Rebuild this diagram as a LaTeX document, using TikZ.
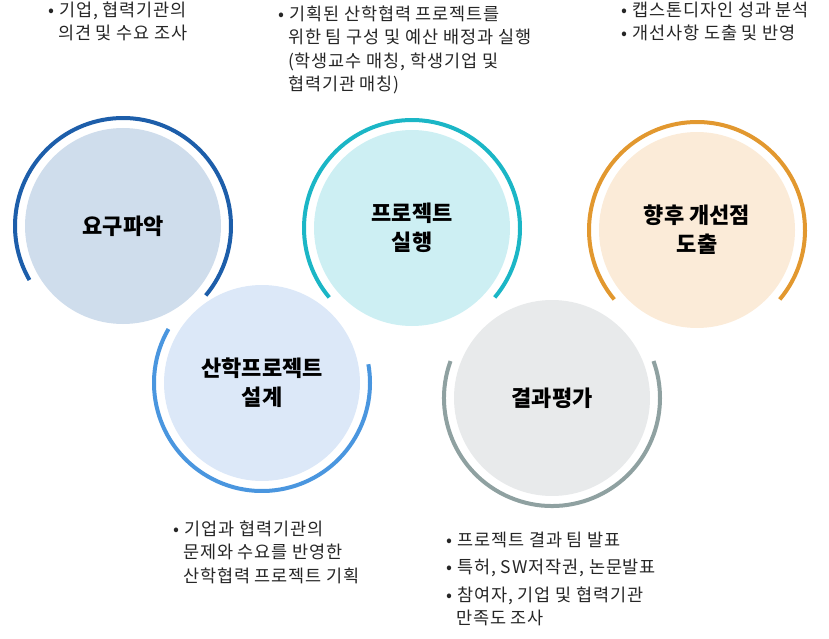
\documentclass[tikz,border=0pt]{standalone}
\usepackage{fontspec}
\setmainfont{Noto Sans CJK KR}
\newfontfamily\notefont[LetterSpace=5]{Noto Sans CJK KR}
\begin{document}
\begin{tikzpicture}[x=1pt,y=-1pt,
  disc/.style={circle,minimum size=196pt,inner sep=0pt,align=center,font=\fontsize{22}{29}\selectfont\bfseries},
  ring/.style={line width=4pt},
  note/.style={anchor=north west,align=left,font=\notefont\fontsize{17.5}{23.5}\selectfont,text=black!85}]
\useasboundingbox (0,0) rectangle (829,639);
\definecolor{c1f}{HTML}{CFDDEC}\definecolor{c1a}{HTML}{1D5EAA}
\definecolor{c2f}{HTML}{CDEFF3}\definecolor{c2a}{HTML}{1BB6C6}
\definecolor{c3f}{HTML}{FBEBD8}\definecolor{c3a}{HTML}{E2982F}
\definecolor{c4f}{HTML}{DCE8F8}\definecolor{c4a}{HTML}{4A96DF}
\definecolor{c5f}{HTML}{E8EAEB}\definecolor{c5a}{HTML}{8FA1A1}
\node[disc,fill=c1f] (a) at (123,226) {요구파악};
\node[disc,fill=c2f] (b) at (412,228) {프로젝트\\실행};
\node[disc,fill=c3f] (c) at (697,230) {향후 개선점\\도출};
\node[disc,fill=c4f] (d) at (262,383) {산학프로젝트\\설계};
\node[disc,fill=c5f] (e) at (552,398) {결과평가};
\draw[ring,c1a] (a.center) ++(40:108) arc[start angle=40,end angle=-210,radius=108];
\draw[ring,c2a] (b.center) ++(40:108) arc[start angle=40,end angle=-220,radius=108];
\draw[ring,c3a] (c.center) ++(40:108) arc[start angle=40,end angle=-220,radius=108];
\draw[ring,c4a] (d.center) ++(-150:108) arc[start angle=-150,end angle=-370,radius=108];
\draw[ring,c5a] (e.center) ++(-160:108) arc[start angle=-160,end angle=-380,radius=108];
\node[note] (n1) at (45,-2) {• 기업, 협력기관의\\\ \ 의견 및 수요 조사};
\node[note] (n2) at (275,2) {• 기획된 산학협력 프로젝트를\\\ \ 위한 팀 구성 및 예산 배정과 실행\\\ \ (학생교수 매칭, 학생기업 및\\\ \ 협력기관 매칭)};
\node[note] (n3) at (618,-2) {• 캡스톤디자인 성과 분석\\• 개선사항 도출 및 반영};
\node[note] (n4) at (170,517) {• 기업과 협력기관의\\\ \ 문제와 수요를 반영한\\\ \ 산학협력 프로젝트 기획};
\node[note] (n5) at (443,528) {• 프로젝트 결과 팀 발표\\[4pt]• 특허, SW저작권, 논문발표\\[4pt]• 참여자, 기업 및 협력기관\\\ \ 만족도 조사};
\end{tikzpicture}
\end{document}
